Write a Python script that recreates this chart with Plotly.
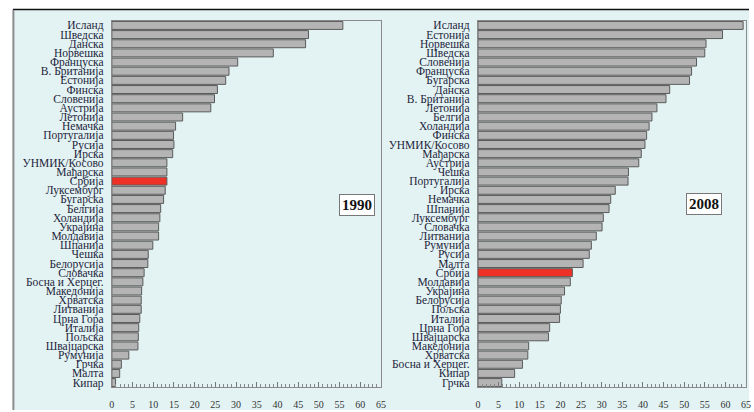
import plotly.graph_objects as go

cats_1990 = ["Исланд", "Шведска", "Данска", "Норвешка", "Француска", "В. Британија", "Естонија",
             "Финска", "Словенија", "Аустрија", "Летонија", "Немачка", "Португалија", "Русија",
             "Ирска", "УНМИК/Косово", "Мађарска", "Србија", "Луксембург", "Бугарска", "Белгија",
             "Холандија", "Украјина", "Молдавија", "Шпанија", "Чешка", "Белорусија", "Словачка",
             "Босна и Херцег.", "Македонија", "Хрватска", "Литванија", "Црна Гора", "Италија",
             "Пољска", "Швајцарска", "Румунија", "Грчка", "Малта", "Кипар"]
vals_1990 = [55.8, 47.5, 46.8, 39.0, 30.4, 28.3, 27.5, 25.5, 24.8, 23.9, 17.1, 15.4, 14.9, 15.0,
             14.7, 13.3, 13.3, 13.3, 12.9, 12.5, 11.8, 11.6, 11.3, 11.3, 9.9, 8.8, 8.7, 7.8,
             7.5, 7.2, 7.1, 7.1, 6.75, 6.5, 6.4, 6.3, 4.1, 2.3, 1.9, 0.9]

cats_2008 = ["Исланд", "Естонија", "Норвешка", "Шведска", "Словенија", "Француска", "Бугарска",
             "Данска", "В. Британија", "Летонија", "Белгија", "Холандија", "Финска", "УНМИК/Косово",
             "Мађарска", "Аустрија", "Чешка", "Португалија", "Ирска", "Немачка", "Шпанија",
             "Луксембург", "Словачка", "Литванија", "Румунија", "Русија", "Малта", "Србија",
             "Молдавија", "Украјина", "Белорусија", "Пољска", "Италија", "Црна Гора", "Швајцарска",
             "Македонија", "Хрватска", "Босна и Херцег.", "Кипар", "Грчка"]
vals_2008 = [64.3, 59.3, 55.3, 55.0, 53.0, 51.8, 51.3, 46.5, 45.6, 43.4, 42.2, 41.5, 40.9, 40.5,
             39.6, 39.0, 36.5, 36.4, 33.3, 32.2, 31.8, 30.4, 30.1, 28.7, 27.5, 27.0, 25.5, 22.9,
             22.4, 21.0, 20.2, 20.0, 19.8, 17.4, 17.1, 12.3, 12.1, 10.8, 8.9, 5.8]

x_ticks = list(range(0, 70, 5))
highlight = "Србија"

W, H = 754, 412
GRAY = "#b4b4b4"
RED = "#ee3126"
SERIF = "Times New Roman, Liberation Serif, serif"

def colors(cats):
    return [RED if c == highlight else GRAY for c in cats]

fig = go.Figure()
fig.add_trace(go.Bar(y=cats_1990, x=vals_1990, orientation="h", xaxis="x", yaxis="y",
                     marker=dict(color=colors(cats_1990), line=dict(color="#5a5a5a", width=1)),
                     showlegend=False))
fig.add_trace(go.Bar(y=cats_2008, x=vals_2008, orientation="h", xaxis="x2", yaxis="y2",
                     marker=dict(color=colors(cats_2008), line=dict(color="#5a5a5a", width=1)),
                     showlegend=False))

def px(v):
    return v / W

def py(v):
    return 1 - v / H

xcommon = dict(range=[0, 65], tickvals=x_ticks, ticks="inside", ticklen=5, tickcolor="#777",
               minor=dict(dtick=1, ticks="inside", ticklen=3, tickcolor="#888"),
               showline=True, linecolor="#8a8a8a", linewidth=1, mirror=True, showgrid=False,
               zeroline=False, tickfont=dict(family=SERIF, size=10, color="#333"),
               ticklabelstandoff=8, fixedrange=True)
ycommon = dict(autorange="reversed", ticks="", showline=True, linecolor="#8a8a8a", linewidth=1,
               mirror=True, showgrid=False, tickfont=dict(family=SERIF, size=11.5, color="#1e1e3c"),
               ticklabelstandoff=5, fixedrange=True)

fig.update_layout(
    width=W, height=H, margin=dict(l=0, r=0, t=0, b=0),
    paper_bgcolor="white", plot_bgcolor="rgba(0,0,0,0)",
    bargap=0.13,
    xaxis=dict(domain=[px(110), px(382)], anchor="y", **xcommon),
    yaxis=dict(domain=[py(389), py(20)], anchor="x", tickmode="array",
               tickvals=cats_1990, ticktext=cats_1990, **ycommon),
    xaxis2=dict(domain=[px(480), px(751)], anchor="y2", **xcommon),
    yaxis2=dict(domain=[py(389), py(20)], anchor="x2", tickmode="array",
                tickvals=cats_2008, ticktext=cats_2008, **ycommon),
    shapes=[
        dict(type="rect", xref="paper", yref="paper", x0=px(10), x1=1, y0=0, y1=py(9),
             fillcolor="#e3f3f3", line=dict(width=0), layer="below"),
        dict(type="line", xref="paper", yref="paper", x0=px(10), x1=1, y0=py(8.5), y1=py(8.5),
             line=dict(color="#111", width=1.5)),
        dict(type="line", xref="paper", yref="paper", x0=px(10.5), x1=px(10.5), y0=0, y1=py(9),
             line=dict(color="#8c8c8c", width=2)),
    ],
    annotations=[
        dict(text="<b>1990</b>", xref="paper", yref="paper", x=px(358), y=py(205),
             showarrow=False, font=dict(family=SERIF, size=15, color="#111"),
             bgcolor="white", bordercolor="#777", borderwidth=1, borderpad=2),
        dict(text="<b>2008</b>", xref="paper", yref="paper", x=px(727), y=py(204),
             showarrow=False, font=dict(family=SERIF, size=15, color="#111"),
             bgcolor="white", bordercolor="#777", borderwidth=1, borderpad=2),
    ],
)

fig.write_html("out.html", config={"displayModeBar": False},
               post_script="document.body.style.margin='0';document.body.style.padding='0';")
